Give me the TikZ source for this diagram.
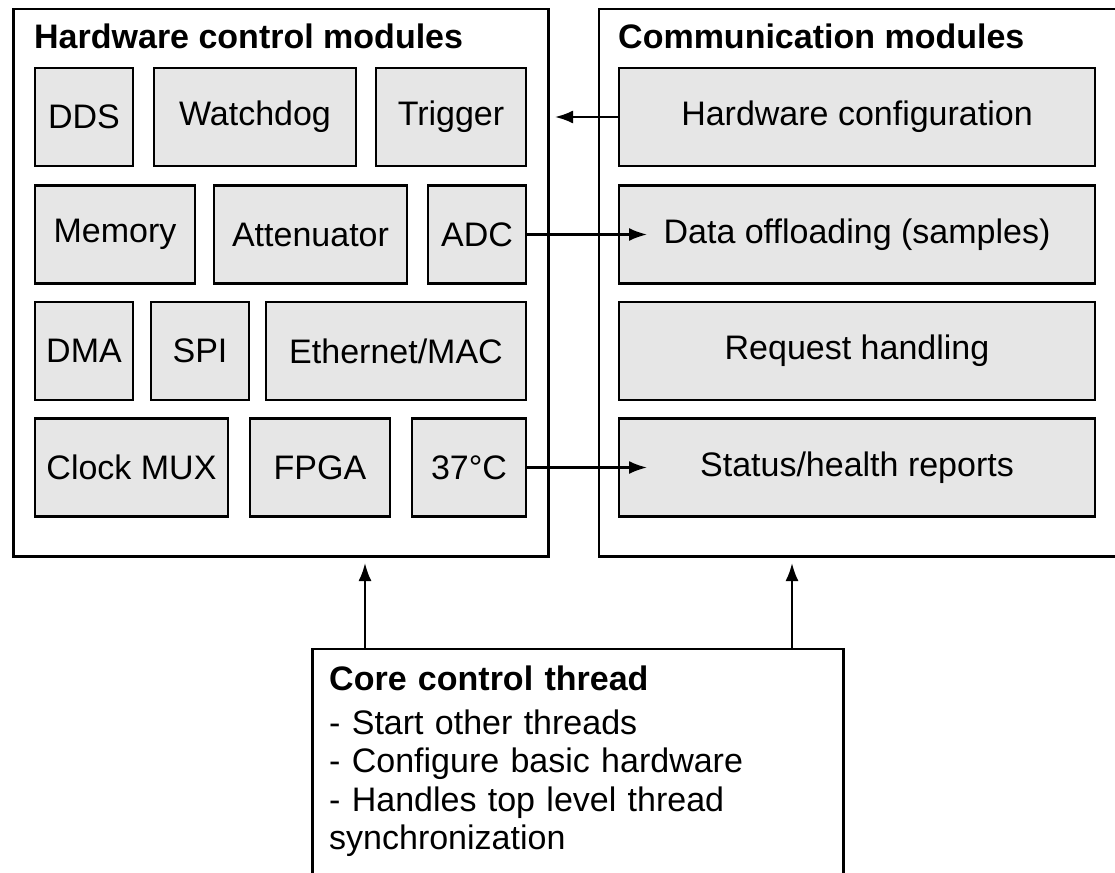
\documentclass[tikz,border=0pt]{standalone}
\usepackage{fontspec}
\setmainfont{Liberation Sans}
\usetikzlibrary{arrows.meta}
\definecolor{modfill}{HTML}{E6E6E6}
\begin{document}
\begin{tikzpicture}[x=1pt,y=-1pt,
  font=\fontsize{34}{38.5}\selectfont,
  outerbox/.style={draw=black, line width=2.2pt, inner sep=0pt},
  mod/.style={draw=black, line width=2.2pt, fill=modfill, inner sep=0pt, minimum height=98pt, anchor=center},
  head/.style={anchor=base west, inner sep=0pt, font=\fontsize{34}{38.5}\selectfont\bfseries},
  arr/.style={line width=2.2pt, -{Latex[length=18pt,width=13pt]}}]
\useasboundingbox (0,0) rectangle (1115,872);
\clip (0,0) rectangle (1115,872);

% outer boxes
\node[outerbox, minimum width=535pt, minimum height=547.5pt] (hw) at (281,282.75) {};
\node[outerbox, minimum width=526pt, minimum height=547.5pt] (com) at (862,282.75) {};
\node[outerbox, minimum width=531pt, minimum height=241pt] (core) at (578,769.5) {};

% headers
\node[head] (hwhead) at (34,49) {Hardware control modules};
\node[head] (comhead) at (618,49) {Communication modules};

% hardware modules
\node[mod, minimum width=98pt]  (dds)   at (84,117)    {DDS};
\node[mod, minimum width=202pt] (wdog)  at (255,117)   {Watchdog};
\node[mod, minimum width=150pt] (trig)  at (451,117)   {Trigger};
\node[mod, minimum width=160pt] (mem)   at (115,234.5) {Memory};
\node[mod, minimum width=193pt] (att)   at (310.5,234.5) {Attenuator};
\node[mod, minimum width=98pt]  (adc)   at (477,234.5) {ADC};
\node[mod, minimum width=98pt]  (dma)   at (84,351)    {DMA};
\node[mod, minimum width=98pt]  (spi)   at (200,351)   {SPI};
\node[mod, minimum width=260pt] (eth)   at (396,351)   {Ethernet/MAC};
\node[mod, minimum width=193pt] (clk)   at (131.5,467.5) {Clock MUX};
\node[mod, minimum width=140pt] (fpga)  at (320,467.5) {FPGA};
\node[mod, minimum width=114pt] (temp)  at (469,467.5) {37°C};

% communication modules
\node[mod, minimum width=476pt] (hwcfg)  at (857,117)   {Hardware configuration};
\node[mod, minimum width=476pt] (offl)   at (857,234.5) {Data offloading (samples)};
\node[mod, minimum width=476pt] (req)    at (857,351)   {Request handling};
\node[mod, minimum width=476pt] (stat)   at (857,467.5) {Status/health reports};

% core text
\node[anchor=base west, inner sep=0pt, text width=500pt, align=left] (coretext) at (329,690)
  {\textbf{Core control thread}\\[5.5pt]
   - Start other threads\\
   - Configure basic hardware\\
   - Handles top level thread\\
   synchronization};

% connector end points
\coordinate (t1) at (555,117);
\coordinate (t2) at (647,234.5);
\coordinate (t3) at (647,467.5);
\coordinate (u1) at (365,563);
\coordinate (u2) at (792,563);

% connectors
\draw[arr] (hwcfg.west) -- (t1);
\draw[arr] (adc.east) -- (t2);
\draw[arr] (temp.east) -- (t3);
\draw[arr] (u1 |- core.north) -- (u1);
\draw[arr] (u2 |- core.north) -- (u2);
\end{tikzpicture}
\end{document}
